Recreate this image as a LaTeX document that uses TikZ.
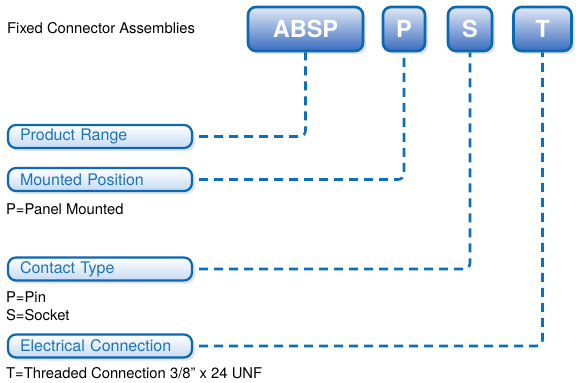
\documentclass[tikz,border=0pt]{standalone}
\usepackage{fontspec}
\setmainfont{TeX Gyre Heros}
\usepackage{tikz}
\usetikzlibrary{shapes,arrows,positioning,shadows}

\definecolor{linkblue}{HTML}{0B6FBA}
\definecolor{edgeblue}{HTML}{0A68B4}
\definecolor{darkfill}{HTML}{3A6DBF}
\definecolor{lightfill}{HTML}{E2E9F6}
\definecolor{labelblue}{HTML}{1B74BB}
\definecolor{palefill}{HTML}{C6DAF2}

\begin{document}
\begin{tikzpicture}[x=1pt, y=-1pt, font=\fontsize{14.8}{18}\selectfont]
    % Define styles
    \tikzstyle{code} = [rectangle, rounded corners=8pt, minimum height=44pt, line width=2.6pt, draw=edgeblue, top color=lightfill, bottom color=darkfill, text=white, font=\fontsize{23.5}{26}\selectfont\bfseries, drop shadow={shadow xshift=3pt, shadow yshift=-3pt, fill=black!22}]
    \tikzstyle{field} = [rectangle, rounded corners=8pt, minimum height=23pt, text width=160pt, inner xsep=12pt, inner ysep=2pt, align=left, line width=2.2pt, draw=edgeblue, top color=white, bottom color=palefill, text=labelblue, font=\fontsize{16}{18}\selectfont, drop shadow={shadow xshift=3pt, shadow yshift=-3pt, fill=black!22}]
    \tikzstyle{note} = [inner sep=0pt, align=left, font=\fontsize{14.8}{18}\selectfont]
    \tikzstyle{link} = [linkblue, line width=2.6pt, dash pattern=on 9pt off 6pt, rounded corners=6pt, shorten <=6pt]

    \useasboundingbox (0,0) rectangle (576,383);

    % Nodes
    \node[anchor=west, inner sep=0pt] (title) at (7,28) {Fixed Connector Assemblies};
    \node[code, minimum width=115pt] (range) at (305.5,29) {ABSP};
    \node[code, minimum width=42pt] (mount) at (404,29) {P};
    \node[code, minimum width=44pt] (contact) at (470,29) {S};
    \node[code, minimum width=58pt] (conn) at (542.5,29) {T};

    \node[field] (f_range) at (100,136.5) {Product Range};
    \node[field] (f_mount) at (100,179.5) {Mounted Position};
    \node[note, below right=11pt and -1pt of f_mount.south west] (n_mount) {P=Panel Mounted};
    \node[field] (f_contact) at (100,269) {Contact Type};
    \node[note, below right=10pt and -1pt of f_contact.south west] (n_contact) {P=Pin\\S=Socket};
    \node[field] (f_conn) at (100,346) {Electrical Connection};
    \node[note, below right=9pt and -1pt of f_conn.south west] (n_conn) {T=Threaded Connection 3/8” x 24 UNF};

    % Connections
    \draw[link] (f_range.east) -| (range.south);
    \draw[link] (f_mount.east) -| (mount.south);
    \draw[link] (f_contact.east) -| (contact.south);
    \draw[link] (f_conn.east) -| (conn.south);
\end{tikzpicture}
\end{document}
